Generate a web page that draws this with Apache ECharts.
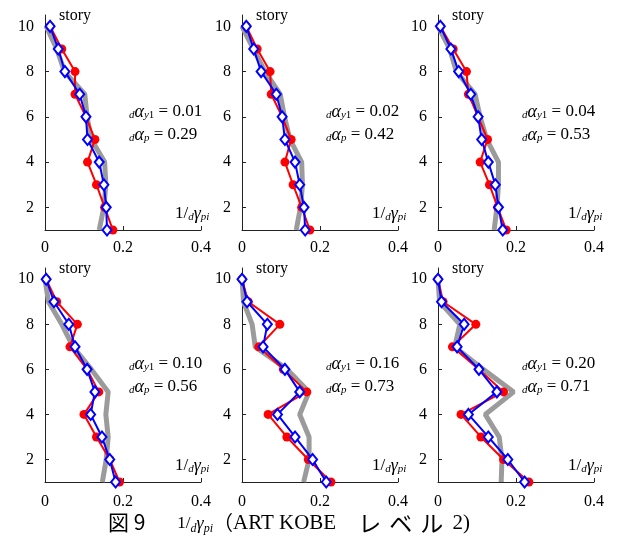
<!DOCTYPE html>
<html><head><meta charset="utf-8">
<script src="https://cdn.jsdelivr.net/npm/echarts@6/dist/echarts.min.js"></script>
<style>html,body{margin:0;padding:0;background:#fff}#c{width:618px;height:541px}</style>
</head><body><div id="c"></div>
<script>
const stories = [10, 9, 8, 7, 6, 5, 4, 3, 2, 1];
const xTicks = [0, 0.2, 0.4];
const yTicks = [2, 4, 6, 8, 10];

const p1Gray = [0.003, 0.030, 0.050, 0.102, 0.108, 0.119, 0.153, 0.156, 0.151, 0.139];
const p1Red  = [0.013, 0.043, 0.077, 0.077, 0.105, 0.128, 0.109, 0.132, 0.153, 0.174];
const p1Blue = [0.013, 0.034, 0.051, 0.089, 0.105, 0.109, 0.139, 0.151, 0.157, 0.159];

const p2Gray = [0.000, 0.029, 0.059, 0.098, 0.109, 0.123, 0.153, 0.155, 0.150, 0.139];
const p2Red  = [0.011, 0.039, 0.072, 0.075, 0.103, 0.126, 0.110, 0.131, 0.153, 0.174];
const p2Blue = [0.011, 0.030, 0.049, 0.088, 0.103, 0.110, 0.136, 0.148, 0.159, 0.162];

const p3Gray = [0.000, 0.030, 0.047, 0.095, 0.108, 0.125, 0.155, 0.155, 0.151, 0.144];
const p3Red  = [0.006, 0.039, 0.073, 0.078, 0.103, 0.127, 0.108, 0.132, 0.153, 0.175];
const p3Blue = [0.006, 0.033, 0.053, 0.084, 0.103, 0.112, 0.129, 0.147, 0.155, 0.166];

const p4Gray = [0.000, 0.009, 0.043, 0.072, 0.119, 0.162, 0.156, 0.162, 0.157, 0.147];
const p4Red  = [0.003, 0.030, 0.083, 0.064, 0.108, 0.138, 0.100, 0.132, 0.166, 0.191];
const p4Blue = [0.003, 0.023, 0.061, 0.077, 0.108, 0.128, 0.117, 0.146, 0.166, 0.181];

const p5Gray = [0.000, 0.004, 0.026, 0.034, 0.116, 0.172, 0.148, 0.172, 0.172, 0.158];
const p5Red  = [0.000, 0.016, 0.097, 0.043, 0.106, 0.166, 0.067, 0.115, 0.170, 0.228];
const p5Blue = [0.000, 0.013, 0.065, 0.054, 0.110, 0.148, 0.091, 0.136, 0.181, 0.216];

const p6Gray = [0.000, 0.004, 0.056, 0.043, 0.116, 0.194, 0.121, 0.157, 0.164, 0.162];
const p6Red  = [0.000, 0.013, 0.097, 0.037, 0.105, 0.168, 0.059, 0.110, 0.168, 0.233];
const p6Blue = [0.000, 0.009, 0.067, 0.049, 0.105, 0.151, 0.078, 0.129, 0.179, 0.222];

const alphaY1 = ['0.01', '0.02', '0.04', '0.10', '0.16', '0.20'];
const alphaP  = ['0.29', '0.42', '0.53', '0.56', '0.73', '0.71'];

const panels = [
  [p1Gray, p1Red, p1Blue], [p2Gray, p2Red, p2Blue], [p3Gray, p3Red, p3Blue],
  [p4Gray, p4Red, p4Blue], [p5Gray, p5Red, p5Blue], [p6Gray, p6Red, p6Blue]
];

const colLeft = [45, 242, 438];
const rowTop = [15, 268];
const rowH = [215, 214];
const W = 156;
const serif = '"Liberation Serif","Times New Roman",serif';
const cjk = '"Noto Sans CJK JP",sans-serif';

const grid = [], xAxis = [], yAxis = [], series = [], graphic = [];

const subRich = {
  m:  { fontFamily: serif, fontSize: 17, color: '#000', verticalAlign: 'top' },
  mi: { fontFamily: serif, fontSize: 18, fontStyle: 'italic', color: '#000', verticalAlign: 'top' },
  si: { fontFamily: serif, fontSize: 11, fontStyle: 'italic', color: '#000', verticalAlign: 'bottom' },
  s:  { fontFamily: serif, fontSize: 11, color: '#000', verticalAlign: 'bottom' }
};

panels.forEach((p, i) => {
  const r = Math.floor(i / 3), c = i % 3;
  const left = colLeft[c], top = rowTop[r], h = rowH[r];
  grid.push({ left: left, top: top, width: W, height: h, containLabel: false });
  xAxis.push({
    type: 'value', gridIndex: i, min: 0, max: 0.4, interval: 0.2,
    axisLine: { show: true, onZero: false, lineStyle: { color: '#222', width: 1 } },
    axisTick: { show: true, inside: true, length: 4, lineStyle: { color: '#222' } },
    axisLabel: { color: '#000', fontFamily: serif, fontSize: 16, margin: r === 0 ? 10 : 12,
      customValues: xTicks, formatter: v => String(+v.toFixed(1)) },
    splitLine: { show: false }
  });
  yAxis.push({
    type: 'value', gridIndex: i, min: 1, max: 10.5,
    axisLine: { show: true, onZero: false, lineStyle: { color: '#222', width: 1 } },
    axisTick: { show: true, inside: true, length: 4, customValues: yTicks, lineStyle: { color: '#222' } },
    axisLabel: { color: '#000', fontFamily: serif, fontSize: 16, margin: 11, customValues: yTicks },
    splitLine: { show: false }
  });
  const toData = arr => stories.map((s, k) => [arr[k], s]);
  series.push({
    type: 'line', xAxisIndex: i, yAxisIndex: i, data: toData(p[0]), showSymbol: false, symbol: 'none',
    lineStyle: { color: '#9b9b9b', width: 5 }, z: 1, silent: true
  });
  series.push({
    type: 'line', xAxisIndex: i, yAxisIndex: i, data: toData(p[1]), symbol: 'circle', symbolSize: 9,
    itemStyle: { color: '#ff0000' }, lineStyle: { color: '#ff0000', width: 2 }, z: 2
  });
  series.push({
    type: 'line', xAxisIndex: i, yAxisIndex: i, data: toData(p[2]), symbol: 'diamond', symbolSize: [9, 11],
    itemStyle: { color: '#ffffff', borderColor: '#0000ff', borderWidth: 2 },
    lineStyle: { color: '#0000ff', width: 2 }, z: 3
  });
  const bottom = top + h;
  graphic.push({ type: 'text', left: left + 14, top: top - 7,
    style: { text: 'story', font: '16px ' + serif, fill: '#000' } });
  graphic.push({ type: 'text', x: left + 130, y: bottom - 25,
    style: { text: '{m|1/}{si|d}{mi|γ}{si|pi}', rich: subRich } });
  graphic.push({ type: 'text', x: left + 84, y: bottom - 127,
    style: { text: '{si|d}{mi|α}{si|y}{s|1}{m| = ' + alphaY1[i] + '}', rich: subRich } });
  graphic.push({ type: 'text', x: left + 84, y: bottom - 104,
    style: { text: '{si|d}{mi|α}{si|p}{m| = ' + alphaP[i] + '}', rich: subRich } });
});

graphic.push({ type: 'text', x: 108, y: 512,
  style: {
    text: '{g|図 9}{gap|}{m|1/}{si|d}{mi|γ}{si|pi}{j|（}{t|ART KOBE}{sp|}{k|レ}{k|ベ}{k|ル}{t| 2)}',
    rich: {
      g: { fontFamily: cjk, fontSize: 21, color: '#000', verticalAlign: 'top' },
      gap: { width: 32 },
      m: { fontFamily: serif, fontSize: 17, color: '#000', verticalAlign: 'top', padding: [3, 0, 0, 0] },
      mi: { fontFamily: serif, fontSize: 18, fontStyle: 'italic', color: '#000', verticalAlign: 'top', padding: [3, 0, 0, 0] },
      si: { fontFamily: serif, fontSize: 12, fontStyle: 'italic', color: '#000', verticalAlign: 'bottom' },
      j: { fontFamily: cjk, fontSize: 20, color: '#000', verticalAlign: 'top' },
      t: { fontFamily: serif, fontSize: 21, color: '#000', verticalAlign: 'top', padding: [1, 0, 0, 0] },
      sp: { width: 18 },
      k: { fontFamily: cjk, fontSize: 23, color: '#000', verticalAlign: 'top', width: 31, align: 'center' }
    }
  }
});

const chart = echarts.init(document.getElementById('c'), null, { renderer: 'canvas' });
chart.setOption({ animation: false, backgroundColor: '#fff', grid, xAxis, yAxis, series, graphic });
</script>
</body></html>
